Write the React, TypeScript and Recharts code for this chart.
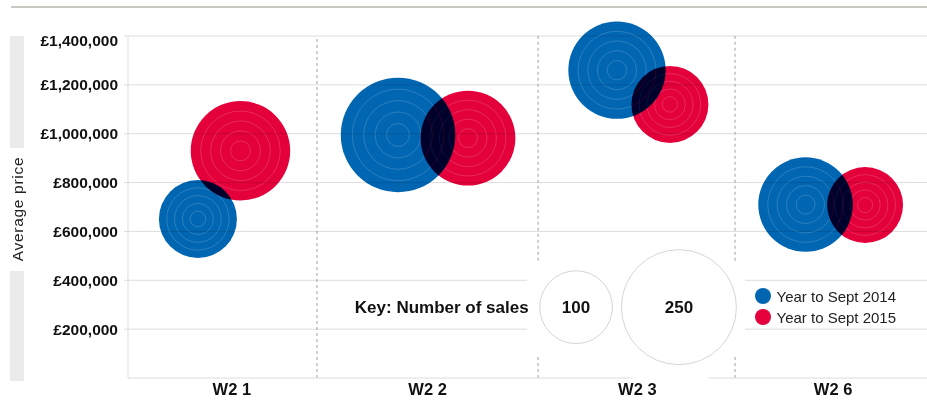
import { ScatterChart, Scatter, XAxis, YAxis, ZAxis, ReferenceLine } from "recharts";

// category bands sit on a 0..4 numeric x scale
const CATEGORIES = ["W2 1", "W2 2", "W2 3", "W2 6"];
const CATEGORY_TICKS = [0.52, 1.5, 2.55, 3.53];
const DIVIDERS = [0.946, 2.053, 3.039];

const Y_TICKS = [200000, 400000, 600000, 800000, 1000000, 1200000, 1400000];

const SERIES_NAMES = ["Year to Sept 2014", "Year to Sept 2015"];
const SERIES_COLORS = ["#0066b2", "#e4003b"];

const X_2014 = [0.35, 1.352, 2.448, 3.392];
const PRICE_2014 = [651000, 995000, 1260000, 710000];
const SALES_2014 = [115, 248, 179, 169];

const X_2015 = [0.563, 1.702, 2.713, 3.69];
const PRICE_2015 = [930000, 982000, 1120000, 708000];
const SALES_2015 = [187, 170, 112, 109];

const KEY_SALES = [100, 250];
const KEY_X = [2.243, 2.758];
const KEY_PRICE = 290000;
// white gap in the grid around the key
const KEY_GAP = { x1: 1.998, x2: 3.089, top: 480000, bottom: 94000 };

const MAX_SALES = 250;
const MAX_RADIUS = 57.5;

const GRID = "#dddddd";
const FONT = '"Liberation Sans", Arial, sans-serif';

const toPoints = (xs: number[], ys: number[], zs: number[]) =>
  xs.map((x, i) => ({ x, y: ys[i], z: zs[i], category: CATEGORIES[i] }));

const data2014 = toPoints(X_2014, PRICE_2014, SALES_2014);
const data2015 = toPoints(X_2015, PRICE_2015, SALES_2015);
const keyData = KEY_SALES.map((z, i) => ({ x: KEY_X[i], y: KEY_PRICE, z }));

const formatPrice = (v: number) => "£" + v.toLocaleString("en-GB");

const makeBubble = (color: string) => (props: any) => {
  const { cx, cy, width } = props;
  const r = width / 2;
  return (
    <g style={{ mixBlendMode: "multiply" }}>
      <circle cx={cx} cy={cy} r={r} fill={color} />
      {[1, 2, 3, 4].map((k) => (
        <circle
          key={k}
          cx={cx}
          cy={cy}
          r={(r * k) / 5}
          fill="none"
          stroke="#ffffff"
          strokeOpacity={0.16}
          strokeWidth={1}
        />
      ))}
    </g>
  );
};

const KeyBubble = (props: any) => {
  const { cx, cy, width, payload, index } = props;
  const r = width / 2;
  return (
    <g>
      <circle cx={cx} cy={cy} r={r} fill="#ffffff" stroke="#d6d6d6" strokeWidth={1} />
      <text x={cx} y={cy} dy="0.36em" textAnchor="middle" fontSize={17} fontWeight="bold" fill="#111">
        {payload.z}
      </text>
      {index === 0 && (
        <text x={cx - r - 11} y={cy} dy="0.36em" textAnchor="end" fontSize={17} fontWeight="bold" fill="#111">
          Key: Number of sales
        </text>
      )}
    </g>
  );
};

const YTick = ({ x, y, payload }: any) => {
  const top = payload.value === Y_TICKS[Y_TICKS.length - 1];
  return (
    <text x={x} y={y + (top ? 4 : 0)} dy="0.36em" textAnchor="end" fontSize={15.5} fontWeight="bold" fill="#111">
      {formatPrice(payload.value)}
    </text>
  );
};

const XTick = ({ x, y, payload }: any) => {
  const i = CATEGORY_TICKS.indexOf(payload.value);
  return (
    <g>
      {i === 2 && <rect x={x - 5} y={y - 3} width={76} height={6} fill="#ffffff" />}
      <text x={x} y={y + 17} textAnchor="middle" fontSize={16.5} fontWeight="bold" fill="#111">
        {CATEGORIES[i]}
      </text>
    </g>
  );
};

const seg = (x1: number, x2: number, y: number) => [
  { x: x1, y },
  { x: x2, y },
];
const vseg = (x: number, y1: number, y2: number) => [
  { x, y: y1 },
  { x, y: y2 },
];

const SeriesLegend = () => (
  <div style={{ position: "absolute", left: 754.5, top: 285.5, display: "flex", flexDirection: "column" }}>
    {SERIES_NAMES.map((name, i) => (
      <div key={name} style={{ display: "flex", alignItems: "center", height: 21 }}>
        <span
          style={{
            width: 16,
            height: 16,
            borderRadius: "50%",
            background: SERIES_COLORS[i],
            marginRight: 6,
            flexShrink: 0,
          }}
        />
        <span style={{ fontSize: 15, color: "#222", whiteSpace: "nowrap" }}>{name}</span>
      </div>
    ))}
  </div>
);

export default function App() {
  const brokenRows = [200000, 400000];
  return (
    <div
      style={{
        position: "absolute",
        left: 0,
        top: 0,
        width: 927,
        height: 401,
        background: "#fff",
        fontFamily: FONT,
      }}
    >
      <div style={{ position: "absolute", left: 11, top: 6, width: 916, height: 1.5, background: "#cbc7c3" }} />
      <div style={{ position: "absolute", left: 10, top: 36, width: 14, height: 112, background: "#ebebeb" }} />
      <div style={{ position: "absolute", left: 10, top: 271, width: 14, height: 110, background: "#ebebeb" }} />
      <div
        style={{
          position: "absolute",
          left: 18,
          top: 208.5,
          transform: "translate(-50%, -50%) rotate(-90deg)",
          whiteSpace: "nowrap",
          fontSize: 15.5,
          letterSpacing: 0.7,
          color: "#222",
        }}
      >
        Average price
      </div>
      <ScatterChart width={927} height={401} margin={{ top: 36, right: 0, bottom: 0, left: 0 }}>
        <XAxis
          type="number"
          dataKey="x"
          domain={[0, 4]}
          ticks={CATEGORY_TICKS}
          interval={0}
          tick={<XTick />}
          tickLine={false}
          tickSize={0}
          tickMargin={0}
          axisLine={{ stroke: GRID }}
          height={23}
        />
        <YAxis
          type="number"
          dataKey="y"
          domain={[0, 1400000]}
          ticks={Y_TICKS}
          interval={0}
          tick={<YTick />}
          tickSize={4}
          tickMargin={6}
          tickLine={{ stroke: GRID }}
          axisLine={{ stroke: GRID }}
          width={128}
        />
        <ZAxis
          type="number"
          dataKey="z"
          domain={[0, MAX_SALES]}
          range={[0, Math.PI * MAX_RADIUS * MAX_RADIUS]}
        />
        {Y_TICKS.filter((v) => !brokenRows.includes(v)).map((v) => (
          <ReferenceLine key={v} segment={seg(0, 4, v)} stroke={GRID} />
        ))}
        {brokenRows.map((v) => (
          <ReferenceLine key={`a${v}`} segment={seg(0, KEY_GAP.x1, v)} stroke={GRID} />
        ))}
        {brokenRows.map((v) => (
          <ReferenceLine key={`b${v}`} segment={seg(KEY_GAP.x2, 4, v)} stroke={GRID} />
        ))}
        {DIVIDERS.map((d) => {
          const inGap = d > KEY_GAP.x1 && d < KEY_GAP.x2 + 0.01;
          if (!inGap) {
            return <ReferenceLine key={d} segment={vseg(d, 0, 1400000)} stroke="#a0a0a0" strokeDasharray="3 3" />;
          }
          return [
            <ReferenceLine key={`${d}t`} segment={vseg(d, KEY_GAP.top, 1400000)} stroke="#a0a0a0" strokeDasharray="3 3" />,
            <ReferenceLine key={`${d}b`} segment={vseg(d, 0, KEY_GAP.bottom)} stroke="#a0a0a0" strokeDasharray="3 3" />,
          ];
        })}
        <Scatter
          name={SERIES_NAMES[0]}
          data={data2014}
          fill={SERIES_COLORS[0]}
          shape={makeBubble(SERIES_COLORS[0])}
          isAnimationActive={false}
        />
        <Scatter
          name={SERIES_NAMES[1]}
          data={data2015}
          fill={SERIES_COLORS[1]}
          shape={makeBubble(SERIES_COLORS[1])}
          isAnimationActive={false}
        />
        <Scatter
          name="key"
          data={keyData}
          fill="#ffffff"
          legendType="none"
          shape={<KeyBubble />}
          isAnimationActive={false}
        />
      </ScatterChart>
      <SeriesLegend />
    </div>
  );
}
